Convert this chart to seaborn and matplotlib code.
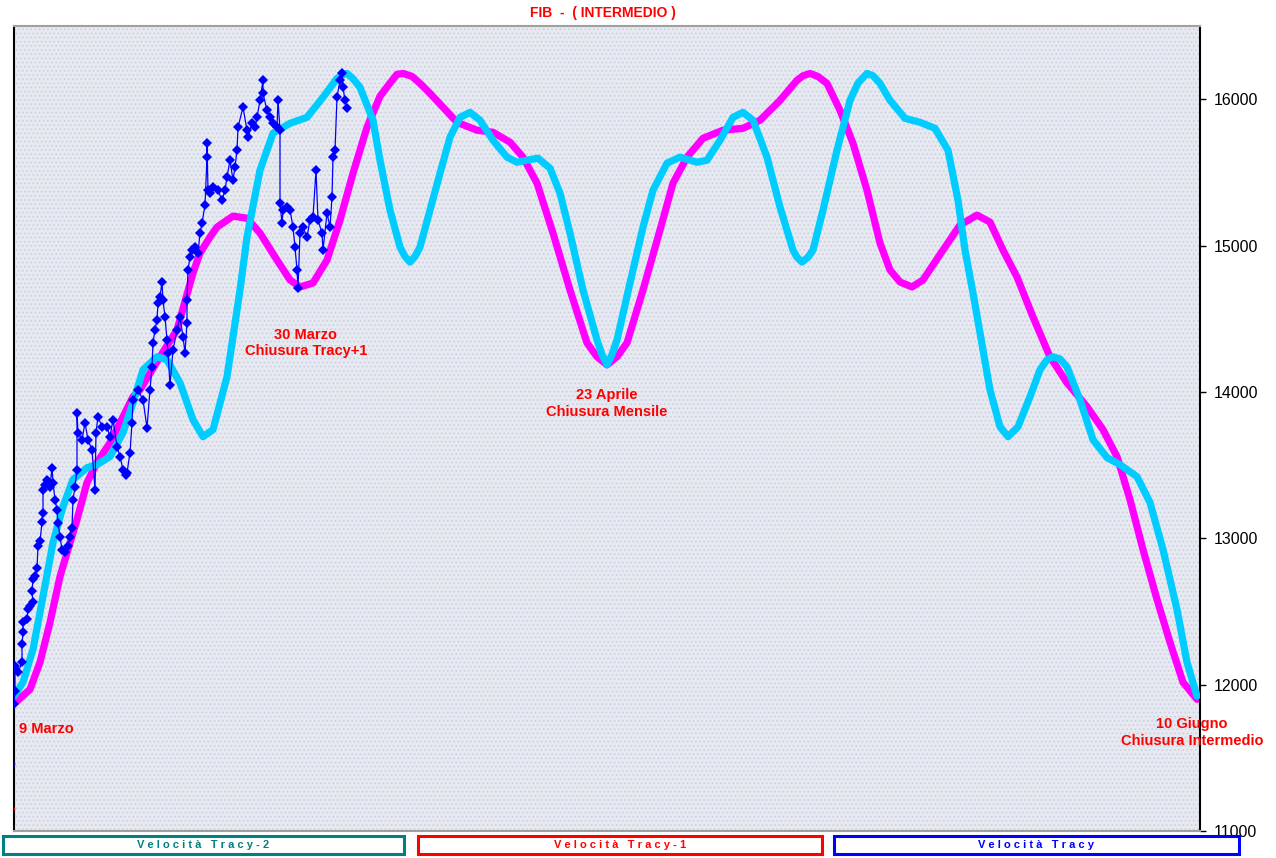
import matplotlib
matplotlib.use('Agg')
import matplotlib.pyplot as plt
import seaborn as sns
import pandas as pd
from matplotlib.patches import Rectangle

sns.set_style('white')
plt.rcParams['font.family'] = ['Liberation Sans', 'DejaVu Sans']
plt.rcParams['hatch.linewidth'] = 0.6

# ---------------- data ----------------
title_text = "FIB  -  ( INTERMEDIO )"

# Velocità Tracy-1 (magenta curve): bar index, price
tracy1_bar = [3, 16, 26, 36, 46, 54, 63, 73, 83, 96, 109, 119, 126, 146, 163, 179, 186, 196, 203, 219,
              233, 246, 263, 276, 286, 299, 313, 326, 339, 353, 366, 376, 383, 389, 398, 406, 416, 443, 463, 479,
              496, 509, 523, 539, 556, 573, 583, 593, 603, 613, 629, 646, 659, 673, 689, 709, 729, 746, 766, 783,
              789, 796, 804, 813, 826, 839, 853, 866, 876, 886, 898, 909, 929, 946, 963, 976, 989, 1003, 1019, 1036,
              1053, 1073, 1089, 1103, 1116, 1129, 1143, 1156, 1169, 1183]
tracy1_val = [11887, 11968, 12153, 12425, 12739, 12923, 13128, 13380, 13517, 13653, 13830, 13967, 14014, 14240, 14424, 14812, 14949, 15058, 15126, 15201,
              15187, 15085, 14901, 14765, 14717, 14744, 14901, 15174, 15494, 15808, 16020, 16110, 16170, 16176, 16156, 16108, 16040, 15842, 15788, 15774,
              15706, 15604, 15426, 15085, 14696, 14335, 14240, 14185, 14240, 14335, 14696, 15106, 15426, 15604, 15733, 15788, 15801, 15856, 15992, 16129,
              16160, 16176, 16155, 16108, 15924, 15699, 15378, 15017, 14833, 14751, 14717, 14765, 14969, 15140, 15208, 15160, 14969, 14785, 14512, 14240,
              14062, 13899, 13742, 13558, 13264, 12923, 12582, 12289, 12016, 11900]

# Velocità Tracy-2 (cyan curve)
tracy2_bar = [0, 9, 19, 29, 39, 49, 59, 73, 83, 96, 109, 119, 129, 143, 153, 166, 179, 189, 199, 213,
              226, 233, 246, 259, 276, 293, 309, 323, 328, 333, 339, 346, 359, 366, 376, 386, 391, 396, 401, 406,
              416, 426, 436, 446, 456, 466, 479, 493, 503, 513, 524, 536, 546, 556, 569, 583, 588, 593, 598, 603,
              616, 629, 639, 653, 666, 683, 693, 706, 719, 729, 739, 753, 766, 779, 783, 788, 794, 799, 809, 823,
              836, 844, 853, 859, 866, 876, 891, 906, 921, 934, 944, 951, 959, 969, 976, 986, 994, 1004, 1016, 1026,
              1033, 1039, 1046, 1053, 1066, 1079, 1093, 1106, 1123, 1136, 1149, 1163, 1173, 1183]
tracy2_val = [11921, 12016, 12241, 12603, 12971, 13217, 13401, 13482, 13503, 13558, 13721, 13926, 14151, 14240, 14219, 14062, 13810, 13694, 13742, 14103,
              14696, 15058, 15515, 15767, 15835, 15876, 16013, 16142, 16165, 16176, 16140, 16081, 15856, 15583, 15242, 14990, 14925, 14887, 14925, 14990,
              15242, 15494, 15740, 15876, 15910, 15856, 15719, 15604, 15569, 15583, 15597, 15528, 15358, 15085, 14696, 14355, 14255, 14185, 14255, 14355,
              14744, 15126, 15378, 15563, 15604, 15569, 15583, 15719, 15876, 15910, 15856, 15604, 15263, 14969, 14920, 14887, 14920, 14969, 15242, 15651,
              15992, 16110, 16176, 16160, 16108, 15992, 15869, 15842, 15801, 15651, 15310, 14969, 14676, 14287, 14014, 13762, 13694, 13762, 13967, 14151,
              14220, 14240, 14225, 14171, 13946, 13673, 13551, 13503, 13421, 13244, 12923, 12514, 12153, 11921]

# Velocità Tracy (blue price series)
tracy_bar = [0, 1, 1, 4, 8, 8, 9, 9, 13, 14, 16, 19, 18, 19, 21, 23, 24, 26, 28, 29,
             29, 31, 33, 36, 38, 39, 41, 43, 44, 46, 48, 51, 54, 56, 58, 59, 61, 63, 63, 64,
             68, 71, 74, 78, 81, 82, 84, 88, 93, 96, 99, 103, 106, 109, 112, 113, 116, 118, 119, 124,
             129, 133, 136, 138, 139, 141, 143, 144, 146, 148, 149, 151, 153, 154, 156, 159, 163, 166, 169, 171,
             173, 173, 174, 176, 178, 181, 184, 186, 188, 191, 193, 193, 194, 196, 199, 204, 208, 211, 213, 216,
             219, 221, 223, 224, 229, 233, 234, 238, 241, 243, 246, 249, 249, 253, 256, 259, 263, 264, 266, 266,
             268, 269, 273, 276, 279, 281, 283, 284, 286, 289, 293, 296, 299, 302, 304, 308, 309, 313, 316, 318,
             319, 321, 323, 326, 328, 329, 331, 333]
tracy_val = [11866, 11955, 12125, 12084, 12153, 12275, 12357, 12425, 12446, 12514, 12535, 12562, 12637, 12719, 12739, 12800, 12944, 12978, 13114, 13176,
             13332, 13367, 13401, 13353, 13482, 13380, 13264, 13196, 13107, 13012, 12923, 12903, 12944, 13012, 13073, 13264, 13353, 13469, 13858, 13721,
             13673, 13789, 13673, 13605, 13332, 13721, 13830, 13762, 13762, 13694, 13810, 13626, 13558, 13469, 13435, 13448, 13585, 13789, 13946, 14014,
             13946, 13755, 14014, 14171, 14335, 14424, 14492, 14608, 14649, 14751, 14628, 14512, 14355, 14267, 14049, 14287, 14424, 14512, 14376, 14267,
             14471, 14628, 14833, 14922, 14969, 14990, 14949, 15085, 15153, 15276, 15604, 15699, 15378, 15358, 15399, 15378, 15310, 15378, 15467, 15583,
             15447, 15535, 15651, 15808, 15945, 15788, 15740, 15835, 15808, 15876, 15992, 16129, 16040, 15924, 15876, 15835, 15808, 15992, 15788, 15290,
             15153, 15242, 15263, 15242, 15126, 14990, 14833, 14710, 15085, 15126, 15058, 15174, 15194, 15515, 15174, 15085, 14969, 15222, 15126, 15331,
             15604, 15651, 16013, 16129, 16176, 16081, 15992, 15938]

# first values of the other series drawn at the left edge
edge_bar = [0, 0]
edge_val = [11457, 11150]
edge_col = ['#0000ff', '#ff0000']

y_ticks = [11000, 12000, 13000, 14000, 15000, 16000]

annotations = [
    (5, 11700, "9 Marzo", 'left'),
    (292, 14335, "30 Marzo\nChiusura Tracy+1", 'center'),
    (593, 13919, "23 Aprile\nChiusura Mensile", 'center'),
    (1178, 11675, "10 Giugno\nChiusura Intermedio", 'center'),
]

legend_labels = ["Velocità Tracy-2", "Velocità Tracy-1", "Velocità Tracy"]
legend_colors = ['#008080', '#ff0000', '#0000ff']

# ---------------- figure ----------------
W, H = 1276, 858
fig = plt.figure(figsize=(W / 100, H / 100), dpi=100)
fig.patch.set_facecolor('white')
ax = fig.add_axes([14 / W, 1 - 831 / H, 1186 / W, 805 / H])

bg = Rectangle((0, 0), 1, 1, transform=ax.transAxes, facecolor='#e6e9f0',
               edgecolor='#c8cde2', hatch='....', lw=0, zorder=0)
ax.add_patch(bg)

df1 = pd.DataFrame({'bar': tracy1_bar, 'val': tracy1_val})
df2 = pd.DataFrame({'bar': tracy2_bar, 'val': tracy2_val})
df0 = pd.DataFrame({'bar': tracy_bar, 'val': tracy_val})

sns.lineplot(data=df1, x='bar', y='val', ax=ax, color='#ff00ff', lw=5.2,
             estimator=None, sort=False, zorder=2, solid_capstyle='round', solid_joinstyle='round')
sns.lineplot(data=df2, x='bar', y='val', ax=ax, color='#00ccff', lw=5.2,
             estimator=None, sort=False, zorder=3, solid_capstyle='round', solid_joinstyle='round')
sns.lineplot(data=df0, x='bar', y='val', ax=ax, color='#0000ff', lw=0.9,
             marker='D', markersize=5.5, markeredgewidth=0, estimator=None, sort=False, zorder=4)
ax.scatter(edge_bar, edge_val, c=edge_col, s=4, zorder=4, linewidths=0)

ax.set_xlim(0, 1186)
ax.set_ylim(11000, 16500)
ax.set_xlabel('')
ax.set_ylabel('')
ax.set_xticks([])
ax.set_yticks(y_ticks)
ax.set_yticklabels([str(v) for v in y_ticks])
ax.yaxis.tick_right()
ax.tick_params(axis='y', right=True, left=False, length=4, width=1, direction='out',
               labelsize=11.5, pad=6, colors='black')

for side in ['left', 'right']:
    ax.spines[side].set_visible(True)
    ax.spines[side].set_color('black')
    ax.spines[side].set_linewidth(1.5)
for side in ['top', 'bottom']:
    ax.spines[side].set_visible(True)
    ax.spines[side].set_color('#a0a0a0')
    ax.spines[side].set_linewidth(1.5)

for x, y, s, ha in annotations:
    ax.text(x, y, s, color='#ff0000', fontweight='bold', fontsize=10.5, ha=ha, va='center',
            linespacing=1.25, zorder=6, clip_on=False)

fig.text(603 / W, 1 - 13 / H, title_text, color='#ff0000', fontweight='bold', fontsize=10,
         ha='center', va='center')

boxes = [(3, 404), (418, 822), (834, 1239)]
for (x0, x1), lab, col in zip(boxes, legend_labels, legend_colors):
    rect = Rectangle((x0 / W, 1 - 854 / H), (x1 - x0) / W, 18 / H, transform=fig.transFigure,
                     facecolor='white', edgecolor=col, lw=2.2)
    fig.add_artist(rect)
    spaced = ' '.join(lab)
    fig.text((x0 + x1) / 2 / W, 1 - 845 / H, spaced, color=col, fontweight='bold', fontsize=8,
             ha='center', va='center')

fig.savefig('out.png', dpi=100)
